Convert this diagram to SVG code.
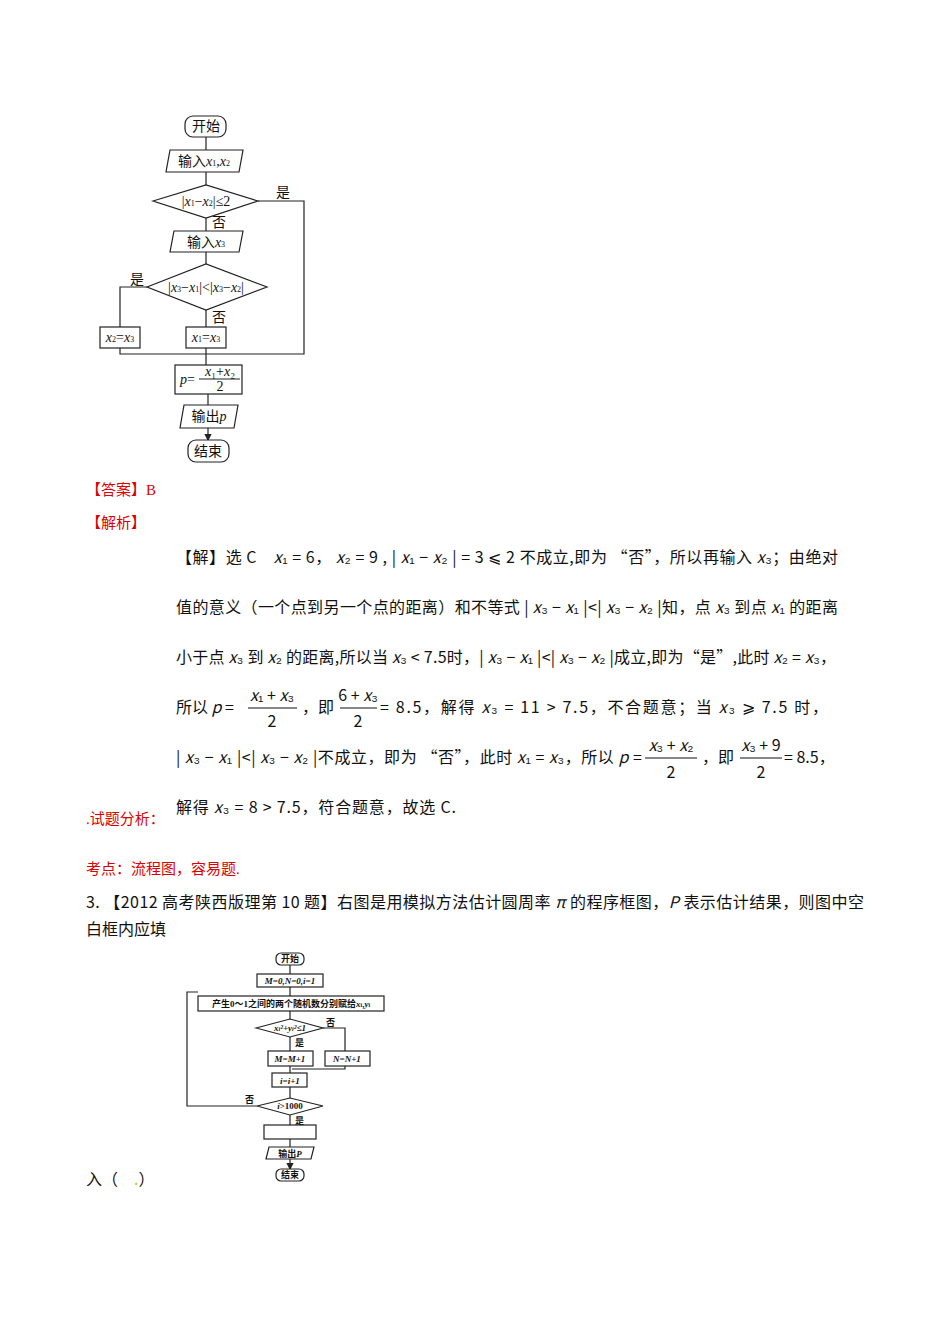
<svg xmlns="http://www.w3.org/2000/svg" width="950" height="1344" viewBox="0 0 950 1344">
<style>
.s{fill:#fff;stroke:#222;stroke-width:1.2}
.l{fill:none;stroke:#222;stroke-width:1.2}
.t{font-family:"Liberation Serif","Noto Sans CJK SC",serif;font-size:14px;fill:#111}
.t2{font-family:"Liberation Serif","Noto Sans CJK SC",serif;font-size:9px;font-weight:bold;fill:#111}
.b{font-family:"Noto Sans CJK SC",sans-serif;font-size:16px;fill:#111}
.r{font-family:"Liberation Serif","Noto Sans CJK SC",serif;font-size:15px;fill:#d00}
.i{font-style:italic}
</style>
<defs><marker id="a" markerWidth="6" markerHeight="6" refX="5" refY="3" orient="auto"><path d="M0,0L6,3L0,6z" fill="#222"/></marker></defs>
<rect width="950" height="1344" fill="#fff"/>
<g id="connectors1">
<path class="l" d="M206,137V150M206,172V185M206,218V231M206,252V264M206,310V327M147,287H120V327M258,201H304V354H208M120,348V354H208M206,348V365M208,394V405M208,428V440" marker-end="url(#a)"/>
</g>
<g id="start1"><rect class="s" x="185" y="116" width="41" height="21" rx="8"/><text class="t" x="206" y="131" text-anchor="middle">开始</text></g>
<g id="in1"><path class="s" d="M170,150H243L239,172H166z"/><text class="t" x="204" y="166" text-anchor="middle">输入<tspan class="i">x</tspan><tspan font-size="8">1</tspan>,<tspan class="i">x</tspan><tspan font-size="8">2</tspan></text></g>
<g id="d1"><path class="s" d="M153,201L206,185L258,201L206,218z"/><text class="t" x="206" y="206" text-anchor="middle">|<tspan class="i">x</tspan><tspan font-size="8">1</tspan>−<tspan class="i">x</tspan><tspan font-size="8">2</tspan>|≤2</text><text class="t" x="276" y="197" font-size="11">是</text><text class="t" x="212" y="227" font-size="11">否</text></g>
<g id="in2"><path class="s" d="M174,231H243L239,252H170z"/><text class="t" x="206" y="247" text-anchor="middle">输入<tspan class="i">x</tspan><tspan font-size="8">3</tspan></text></g>
<g id="d2"><path class="s" d="M147,287L206,264L267,287L206,310z"/><text class="t" x="206" y="292" text-anchor="middle">|<tspan class="i">x</tspan><tspan font-size="8">3</tspan>−<tspan class="i">x</tspan><tspan font-size="8">1</tspan>|&lt;|<tspan class="i">x</tspan><tspan font-size="8">3</tspan>−<tspan class="i">x</tspan><tspan font-size="8">2</tspan>|</text><text class="t" x="130" y="284" font-size="11">是</text><text class="t" x="212" y="322" font-size="11">否</text></g>
<g id="b1"><rect class="s" x="100" y="327" width="40" height="21"/><text class="t" x="120" y="342" text-anchor="middle"><tspan class="i">x</tspan><tspan font-size="8">2</tspan>=<tspan class="i">x</tspan><tspan font-size="8">3</tspan></text></g>
<g id="b2"><rect class="s" x="186" y="327" width="40" height="21"/><text class="t" x="206" y="342" text-anchor="middle"><tspan class="i">x</tspan><tspan font-size="8">1</tspan>=<tspan class="i">x</tspan><tspan font-size="8">3</tspan></text></g>
<g id="pbox"><rect class="s" x="175" y="365" width="67" height="29"/><text class="t" x="180" y="384"><tspan class="i">p</tspan>=</text><text class="t" x="220" y="376" font-size="10" text-anchor="middle"><tspan class="i">x</tspan>₁+<tspan class="i">x</tspan>₂</text><line class="l" x1="199" y1="379" x2="240" y2="379"/><text class="t" x="220" y="391" text-anchor="middle">2</text></g>
<g id="out1"><path class="s" d="M184,405H238L234,428H180z"/><text class="t" x="209" y="421" text-anchor="middle">输出<tspan class="i">p</tspan></text></g>
<g id="end1"><rect class="s" x="188" y="440" width="41" height="22" rx="8"/><text class="t" x="208" y="456" text-anchor="middle">结束</text></g>

<text class="r" x="86" y="495">【答案】B</text>
<text class="r" x="86" y="528">【解析】</text>
<g class="b">
<text x="176" y="563" textLength="662" lengthAdjust="spacing">【解】选 C　<tspan class="i">x</tspan>₁ = 6， <tspan class="i">x</tspan>₂ = 9 , | <tspan class="i">x</tspan>₁ − <tspan class="i">x</tspan>₂ | = 3 ⩽ 2 不成立,即为 “否”，所以再输入 <tspan class="i">x</tspan>₃；由绝对</text>
<text x="176" y="613" textLength="662" lengthAdjust="spacing">值的意义（一个点到另一个点的距离）和不等式 | <tspan class="i">x</tspan>₃ − <tspan class="i">x</tspan>₁ |&lt;| <tspan class="i">x</tspan>₃ − <tspan class="i">x</tspan>₂ |知，点 <tspan class="i">x</tspan>₃ 到点 <tspan class="i">x</tspan>₁ 的距离</text>
<text x="176" y="663" textLength="660" lengthAdjust="spacing">小于点 <tspan class="i">x</tspan>₃ 到 <tspan class="i">x</tspan>₂ 的距离,所以当 <tspan class="i">x</tspan>₃ &lt; 7.5时，| <tspan class="i">x</tspan>₃ − <tspan class="i">x</tspan>₁ |&lt;| <tspan class="i">x</tspan>₃ − <tspan class="i">x</tspan>₂ |成立,即为“是”,此时 <tspan class="i">x</tspan>₂ = <tspan class="i">x</tspan>₃，</text>
<text x="176" y="713">所以 <tspan class="i">p</tspan> =</text>
<text x="272" y="701" text-anchor="middle"><tspan class="i">x</tspan>₁ + <tspan class="i">x</tspan>₃</text><line x1="248" y1="708" x2="297" y2="708" stroke="#111"/><text x="272" y="727" text-anchor="middle">2</text>
<text x="302" y="713">，即</text>
<text x="358" y="701" text-anchor="middle">6 + <tspan class="i">x</tspan>₃</text><line x1="340" y1="708" x2="377" y2="708" stroke="#111"/><text x="358" y="727" text-anchor="middle">2</text>
<text x="380" y="713" textLength="448" lengthAdjust="spacing">= 8.5，解得 <tspan class="i">x</tspan>₃ = 11 &gt; 7.5，不合题意；当 <tspan class="i">x</tspan>₃ ⩾ 7.5 时，</text>
<text x="176" y="763" textLength="466" lengthAdjust="spacing">| <tspan class="i">x</tspan>₃ − <tspan class="i">x</tspan>₁ |&lt;| <tspan class="i">x</tspan>₃ − <tspan class="i">x</tspan>₂ |不成立，即为 “否”，此时 <tspan class="i">x</tspan>₁ = <tspan class="i">x</tspan>₃，所以 <tspan class="i">p</tspan> =</text>
<text x="671" y="751" text-anchor="middle"><tspan class="i">x</tspan>₃ + <tspan class="i">x</tspan>₂</text><line x1="645" y1="758" x2="697" y2="758" stroke="#111"/><text x="671" y="778" text-anchor="middle">2</text>
<text x="702" y="763">，即</text>
<text x="761" y="751" text-anchor="middle"><tspan class="i">x</tspan>₃ + 9</text><line x1="740" y1="758" x2="782" y2="758" stroke="#111"/><text x="761" y="778" text-anchor="middle">2</text>
<text x="784" y="763">= 8.5，</text>
<text x="176" y="813" textLength="280" lengthAdjust="spacing">解得 <tspan class="i">x</tspan>₃ = 8 &gt; 7.5，符合题意，故选 C.</text>
</g>
<text class="r" x="86" y="824">.试题分析：</text>
<text class="r" x="86" y="874">考点：流程图，容易题.</text>
<text class="b" x="86" y="908" textLength="778" lengthAdjust="spacing" font-family="Liberation Serif,Noto Sans CJK SC,serif">3. 【2012 高考陕西版理第 10 题】右图是用模拟方法估计圆周率 <tspan class="i">π</tspan> 的程序框图，<tspan class="i">P</tspan> 表示估计结果，则图中空</text>
<text class="b" x="86" y="935" font-family="Liberation Serif,Noto Sans CJK SC,serif">白框内应填</text>
<text class="b" x="86" y="1185" font-family="Liberation Serif,Noto Sans CJK SC,serif">入（　<tspan fill="#cc0">.</tspan>）</text>

<g id="connectors2">
<path class="l" d="M290,965V974M290,987V996M290,1011V1019M290,1037V1051M323,1028H345V1051M345,1066V1069H292M290,1066V1073M290,1087V1098M257,1106H187V992H198M290,1115V1125M290,1139V1147M290,1159V1169" marker-end="url(#a)"/>
</g>
<g id="start2"><rect class="s" x="276" y="953" width="28" height="12" rx="5"/><text class="t2" x="290" y="962" text-anchor="middle">开始</text></g>
<g id="init"><rect class="s" x="257" y="974" width="66" height="13"/><text class="t2 i" x="290" y="984" text-anchor="middle">M=0,N=0,i=1</text></g>
<g id="gen"><rect class="s" x="198" y="996" width="186" height="15"/><text class="t2" x="291" y="1007" text-anchor="middle">产生0～1之间的两个随机数分别赋给<tspan class="i">x</tspan><tspan font-size="6">i</tspan>,<tspan class="i">y</tspan><tspan font-size="6">i</tspan></text></g>
<g id="d3"><path class="s" d="M256,1028L290,1019L323,1028L290,1037z"/><text class="t2 i" x="290" y="1031" text-anchor="middle">x<tspan font-size="6">i</tspan>²+y<tspan font-size="6">i</tspan>²≤1</text><text class="t2" x="326" y="1026">否</text><text class="t2" x="295" y="1046">是</text></g>
<g id="m"><rect class="s" x="268" y="1051" width="45" height="15"/><text class="t2 i" x="290" y="1062" text-anchor="middle">M=M+1</text></g>
<g id="n"><rect class="s" x="325" y="1051" width="45" height="15"/><text class="t2 i" x="347" y="1062" text-anchor="middle">N=N+1</text></g>
<g id="inc"><rect class="s" x="272" y="1073" width="35" height="14"/><text class="t2 i" x="290" y="1084" text-anchor="middle">i=i+1</text></g>
<g id="d4"><path class="s" d="M257,1106L290,1098L323,1106L290,1115z"/><text class="t2" x="290" y="1109" text-anchor="middle"><tspan class="i">i</tspan>&gt;1000</text><text class="t2" x="245" y="1103">否</text><text class="t2" x="295" y="1124">是</text></g>
<g id="blank"><rect class="s" x="264" y="1125" width="52" height="14"/></g>
<g id="out2"><path class="s" d="M269,1147H314L311,1159H266z"/><text class="t2" x="290" y="1157" text-anchor="middle">输出<tspan class="i">P</tspan></text></g>
<g id="end2"><rect class="s" x="276" y="1169" width="28" height="12" rx="5"/><text class="t2" x="290" y="1178" text-anchor="middle">结束</text></g>
</svg>
